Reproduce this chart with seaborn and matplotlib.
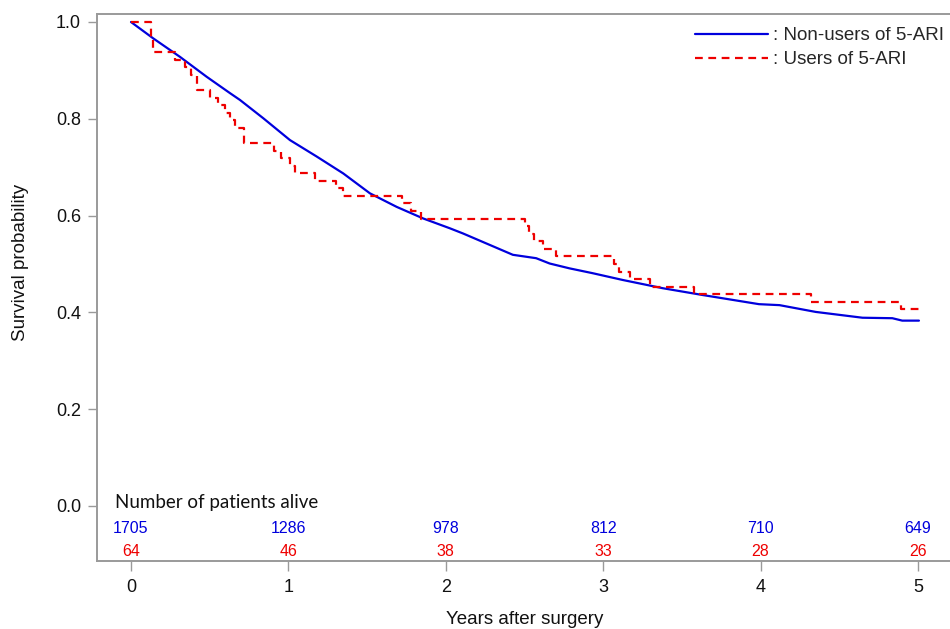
import seaborn as sns
import matplotlib.pyplot as plt
import pandas as pd

# Kaplan-Meier curves
nonusers_years = [0, 0.142, 0.311, 0.48, 0.629, 0.692, 0.841, 1.01, 1.18, 1.349, 1.518, 1.688, 1.857, 2.024,
                  2.11, 2.426, 2.574, 2.66, 2.786, 2.933, 3.124, 3.378, 3.63, 3.99, 4.12, 4.35, 4.647, 4.837,
                  4.90, 5.006]
nonusers_surv = [1.0, 0.966, 0.928, 0.887, 0.853, 0.839, 0.801, 0.756, 0.722, 0.687, 0.646, 0.618, 0.594, 0.574,
                 0.563, 0.519, 0.512, 0.501, 0.491, 0.481, 0.467, 0.450, 0.436, 0.417, 0.415, 0.401, 0.389, 0.388,
                 0.383, 0.383]

users_years = [0, 0.125, 0.14, 0.28, 0.34, 0.38, 0.42, 0.50, 0.55, 0.60, 0.63, 0.66, 0.72, 0.91, 0.95, 1.01,
               1.04, 1.17, 1.30, 1.35, 1.72, 1.78, 1.84, 2.50, 2.53, 2.56, 2.62, 2.70, 3.07, 3.10, 3.17, 3.30,
               3.58, 4.32, 4.89, 5.01]
users_surv = [1.0, 0.969, 0.938, 0.922, 0.906, 0.891, 0.859, 0.844, 0.828, 0.812, 0.797, 0.781, 0.750, 0.734,
              0.719, 0.703, 0.687, 0.672, 0.656, 0.640, 0.625, 0.609, 0.594, 0.578, 0.563, 0.547, 0.531, 0.516,
              0.500, 0.484, 0.469, 0.453, 0.438, 0.422, 0.406, 0.406]

risk_years = [0, 1, 2, 3, 4, 5]
risk_nonusers = [1705, 1286, 978, 812, 710, 649]
risk_users = [64, 46, 38, 33, 28, 26]

blue = "#0000dd"
red = "#ee0000"
grey = "#9a9a9a"

sns.set_style("ticks")
plt.rcParams["font.family"] = ["Liberation Sans", "DejaVu Sans"]

fig = plt.figure(figsize=(9.5, 6.29), dpi=100)
ax = fig.add_axes([97 / 950, 1 - 561 / 629, 853 / 950, 547 / 629])

nonusers = pd.DataFrame({"years": nonusers_years, "surv": nonusers_surv})
users = pd.DataFrame({"years": users_years, "surv": users_surv})

sns.lineplot(data=nonusers, x="years", y="surv", ax=ax, color=blue, lw=1.6, estimator=None, sort=False,
             label=": Non-users of 5-ARI")
sns.lineplot(data=users, x="years", y="surv", ax=ax, color=red, lw=1.6, estimator=None, sort=False,
             drawstyle="steps-post", linestyle=(0, (3.5, 2.5)), label=": Users of 5-ARI")

# numbers at risk
ax.text(-0.10, 0.008, "Number of patients alive", family=["Lato", "DejaVu Sans"], fontsize=13.5,
        ha="left", va="center", color="#111111")
for yr, n1, n2 in zip(risk_years, risk_nonusers, risk_users):
    ax.text(yr, -0.047, str(n1), color=blue, fontsize=11.5, ha="center", va="center")
    ax.text(yr, -0.093, str(n2), color=red, fontsize=11.5, ha="center", va="center")

ax.set_xlim((97 - 131) / 157.4, (950 - 131) / 157.4)
ax.set_ylim((506 - 561) / 484, (506 - 14) / 484)
ax.set_xticks(risk_years)
ax.set_yticks([0, 0.2, 0.4, 0.6, 0.8, 1.0])
ax.set_yticklabels(["0.0", "0.2", "0.4", "0.6", "0.8", "1.0"])
ax.tick_params(axis="both", direction="out", color=grey, width=1, labelsize=13, labelcolor="#111111")
ax.tick_params(axis="y", length=6.5, pad=5)
ax.tick_params(axis="x", length=7, pad=6)

for side in ["left", "bottom", "top"]:
    ax.spines[side].set_color(grey)
    ax.spines[side].set_linewidth(1.4)
ax.spines["right"].set_visible(False)

ax.set_xlabel("Years after surgery", fontsize=13.5, color="#111111")
ax.set_ylabel("Survival probability", fontsize=13.5, color="#111111")
ax.xaxis.label.set_va("center")
ax.yaxis.label.set_va("center")
ax.xaxis.set_label_coords((525 - 97) / 853, (561 - 620) / 547)
ax.yaxis.set_label_coords((21 - 97) / 853, (561 - 262) / 547)

ax.legend(loc="upper right", bbox_to_anchor=(944 / 950, 1 - 27 / 629), bbox_transform=fig.transFigure,
          frameon=False, fontsize=13.5, handlelength=3.9, handletextpad=0.27, labelspacing=0.38,
          borderpad=0, borderaxespad=0)

fig.savefig("out.png", dpi=100)
